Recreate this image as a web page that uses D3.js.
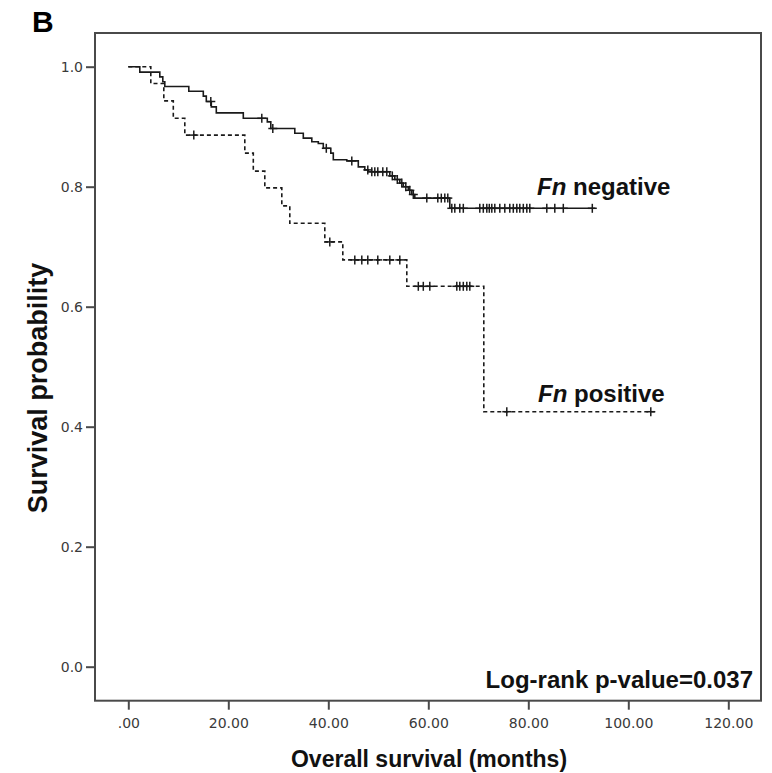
<!DOCTYPE html>
<html>
<head>
<meta charset="utf-8">
<script src="https://cdn.jsdelivr.net/npm/d3@7"></script>
<style>
  html, body { margin: 0; padding: 0; background: #fff; }
  svg { display: block; }
</style>
</head>
<body>
<div id="chart"></div>
<script>
// ---- Data ----
const xTicks = [0, 20, 40, 60, 80, 100, 120];
const yTicks = [0, 0.2, 0.4, 0.6, 0.8, 1.0];

// Fn negative (solid)
const negEventTimes = [2.3, 6.3, 6.9, 7.3, 12.1, 15.0, 15.6, 16.6, 17.6, 23.0, 27.8, 28.5, 33.3, 35.0, 36.7, 38.0, 39.0, 40.5, 41.0, 43.7, 46.0, 47.3, 48.0, 52.3, 53.3, 54.3, 55.0, 56.0, 56.7, 57.3, 64.3];
const negEventSurv  = [0.991, 0.983, 0.975, 0.967, 0.959, 0.951, 0.942, 0.933, 0.923, 0.914, 0.908, 0.897, 0.889, 0.881, 0.875, 0.872, 0.864, 0.856, 0.845, 0.843, 0.833, 0.828, 0.825, 0.818, 0.812, 0.806, 0.800, 0.794, 0.787, 0.781, 0.764];
const negCensor = [16.5, 26.7, 28.9, 39.6, 44.7, 47.9, 48.7, 49.3, 49.9, 50.9, 51.7, 52.8, 53.8, 54.7, 55.5, 56.3, 57.0, 59.7, 61.9, 62.6, 63.3, 63.9, 64.7, 65.3, 66.3, 67.0, 70.3, 71.0, 71.7, 72.2, 72.7, 73.3, 74.3, 75.3, 76.3, 77.0, 77.7, 78.3, 79.0, 79.7, 80.3, 83.7, 85.3, 87.0, 92.8];
const negEnd = 93.4;

// Fn positive (dashed)
const posEventTimes = [4.5, 7.1, 9.0, 11.3, 23.3, 25.0, 27.3, 30.7, 32.3, 39.3, 42.9, 55.7, 71.1];
const posEventSurv  = [0.972, 0.943, 0.914, 0.886, 0.856, 0.826, 0.798, 0.768, 0.739, 0.708, 0.678, 0.634, 0.425];
const posCensor = [13.1, 40.3, 45.3, 46.7, 47.9, 49.9, 52.3, 54.3, 58.0, 59.0, 60.3, 65.7, 66.3, 67.0, 67.7, 68.3, 75.7, 104.5];
const posEnd = 105.3;

// ---- Layout ----
const W = 772, H = 773;
const frame = { left: 95, top: 33, right: 761, bottom: 700.7 };

const svg = d3.select("#chart").append("svg")
  .attr("width", W).attr("height", H);

const x = d3.scaleLinear().domain([0, 120]).range([128.3, 728.3]);
const y = d3.scaleLinear().domain([0, 1]).range([666.7, 66.7]);

const axisColor = "#4a4a4a";
const font = "'Liberation Sans', Arial, sans-serif";

// Frame
svg.append("rect")
  .attr("x", frame.left).attr("y", frame.top)
  .attr("width", frame.right - frame.left)
  .attr("height", frame.bottom - frame.top)
  .attr("fill", "none").attr("stroke", axisColor).attr("stroke-width", 2);

// Axes
const xAxis = d3.axisBottom(x).tickValues(xTicks).tickSize(9).tickPadding(8)
  .tickFormat(d => d === 0 ? ".00" : d.toFixed(2));
const gx = svg.append("g").attr("transform", `translate(0,${frame.bottom})`).call(xAxis);
gx.select(".domain").remove();
gx.selectAll(".tick line").attr("stroke", axisColor).attr("stroke-width", 2);
gx.selectAll(".tick text").attr("font-family", "'DejaVu Sans', sans-serif")
  .attr("font-size", 14).attr("fill", "#3a3a3a");

const yAxis = d3.axisLeft(y).tickValues(yTicks).tickSize(9).tickPadding(3)
  .tickFormat(d3.format(".1f"));
const gy = svg.append("g").attr("transform", `translate(${frame.left},0)`).call(yAxis);
gy.select(".domain").remove();
gy.selectAll(".tick line").attr("stroke", axisColor).attr("stroke-width", 2);
gy.selectAll(".tick text").attr("font-family", "'DejaVu Sans', sans-serif")
  .attr("font-size", 14).attr("fill", "#3a3a3a");

// Curves
function stepPoints(times, surv, end) {
  const pts = [[0, 1]];
  times.forEach((t, i) => pts.push([t, surv[i]]));
  pts.push([end, surv[surv.length - 1]]);
  return pts;
}
function survAt(times, surv, t) {
  let s = 1;
  for (let i = 0; i < times.length; i++) if (times[i] <= t) s = surv[i];
  return s;
}
const line = d3.line().x(d => x(d[0])).y(d => y(d[1])).curve(d3.curveStepAfter);

const curves = [
  { times: negEventTimes, surv: negEventSurv, censor: negCensor, end: negEnd, dash: null },
  { times: posEventTimes, surv: posEventSurv, censor: posCensor, end: posEnd, dash: "4,3" }
];

curves.forEach(c => {
  svg.append("path")
    .attr("d", line(stepPoints(c.times, c.surv, c.end)))
    .attr("fill", "none").attr("stroke", "#1a1a1a").attr("stroke-width", 1.6)
    .attr("stroke-dasharray", c.dash);
  const g = svg.append("g").attr("stroke", "#1a1a1a").attr("stroke-width", 1.5);
  c.censor.forEach(t => {
    const cx = x(t), cy = y(survAt(c.times, c.surv, t));
    g.append("line").attr("x1", cx).attr("x2", cx).attr("y1", cy - 4.5).attr("y2", cy + 4.5);
    g.append("line").attr("x1", cx - 4.5).attr("x2", cx + 4.5).attr("y1", cy).attr("y2", cy);
  });
});

// Labels
const lab1 = svg.append("text").attr("x", 537).attr("y", 195)
  .attr("font-family", font).attr("font-size", 24).attr("font-weight", "bold").attr("fill", "#111");
lab1.append("tspan").attr("font-style", "italic").text("Fn");
lab1.append("tspan").text(" negative");

const lab2 = svg.append("text").attr("x", 538).attr("y", 401.7)
  .attr("font-family", font).attr("font-size", 24).attr("font-weight", "bold").attr("fill", "#111");
lab2.append("tspan").attr("font-style", "italic").text("Fn");
lab2.append("tspan").text(" positive");

svg.append("text").attr("x", 753).attr("y", 688).attr("text-anchor", "end")
  .attr("font-family", font).attr("font-size", 24).attr("font-weight", "bold").attr("fill", "#111")
  .text("Log-rank p-value=0.037");

// Axis titles
svg.append("text").attr("x", 429).attr("y", 766.5).attr("text-anchor", "middle")
  .attr("font-family", font).attr("font-size", 23).attr("font-weight", "bold").attr("fill", "#111")
  .text("Overall survival (months)");

svg.append("text").attr("transform", "translate(47,388) rotate(-90)").attr("text-anchor", "middle")
  .attr("font-family", font).attr("font-size", 27).attr("font-weight", "bold").attr("fill", "#111")
  .text("Survival probability");

// Panel letter
svg.append("text").attr("x", 32).attr("y", 32)
  .attr("font-family", font).attr("font-size", 30).attr("font-weight", "bold").attr("fill", "#000")
  .text("B");
</script>
</body>
</html>
